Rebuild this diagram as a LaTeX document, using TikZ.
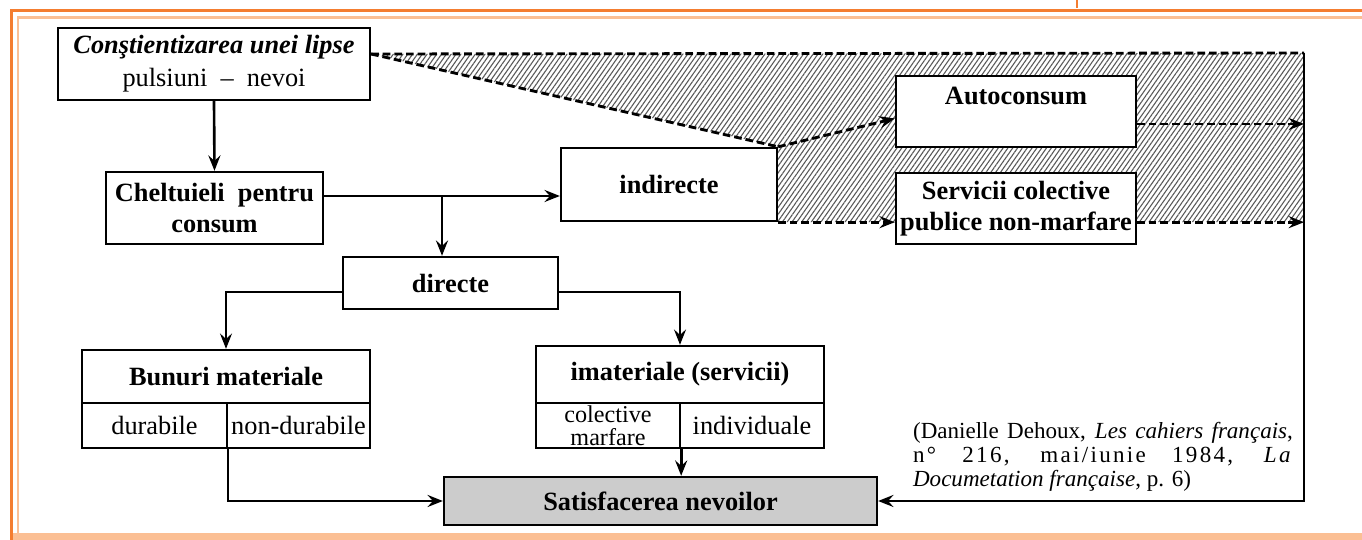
\documentclass[tikz,border=0pt]{standalone}
\usepackage{fontspec}
\setmainfont{Liberation Serif}
\usetikzlibrary{arrows.meta,patterns.meta,backgrounds}
\definecolor{deeporange}{RGB}{244,125,48}
\definecolor{paleorange}{RGB}{251,191,148}
\tikzset{
  box/.style={draw, line width=1.1pt, fill=white, inner sep=0pt, align=center,
    font=\fontsize{12}{14}\selectfont\bfseries},
  cell/.style={box, font=\fontsize{12}{14}\selectfont},
  link/.style={line width=1.2pt, -{Stealth[length=7pt,width=5.5pt,inset=2.5pt]}},
  thinlink/.style={link, line width=0.75pt},
  dashlink/.style={link, dash pattern=on 3.5pt off 1.8pt, line width=1.3pt},
  hatch/.style={pattern={Lines[angle=55,distance=1.8pt,line width=0.5pt]}, pattern color=black!65}
}
\begin{document}
\begin{tikzpicture}[x=0.016cm,y=-0.016cm]
\useasboundingbox (0,0) rectangle (1362,540);
% frame
\draw[deeporange, line width=1.4pt] (11.5,540) -- (11.5,10.5) -- (1362,10.5);
\draw[deeporange, line width=1pt] (1077,0) -- (1077,8);
\draw[paleorange, line width=1pt] (18,533) -- (18,17.5) -- (1362,17.5);
\draw[paleorange, line width=2.8pt] (13,536.5) -- (1362,536.5);
% boxes
\node[box, minimum width=4.99cm, minimum height=1.152cm, font=\fontsize{12}{15}\selectfont\bfseries] (need) at (214,64)
  {\textit{Conştientizarea unei lipse}\\\mdseries pulsiuni \ – \ nevoi};
\node[box, minimum width=3.472cm, minimum height=1.152cm] (chelt) at (214.5,208) {Cheltuieli\ \ pentru\\consum};
\node[box, minimum width=3.456cm, minimum height=1.168cm] (indir) at (669,184.5) {indirecte};
\node[box, minimum width=3.44cm, minimum height=0.832cm] (dir) at (450.5,283) {directe};
\node[box, minimum width=3.84cm, minimum height=1.136cm] (autoc) at (1016,111.5) {Autoconsum\\\mbox{}};
\node[box, minimum width=3.84cm, minimum height=1.136cm] (serv) at (1016,208.5) {Servicii colective\\publice non-marfare};
\node[box, minimum width=4.608cm, minimum height=0.848cm] (bun) at (226,376.5) {Bunuri materiale};
\node[cell, minimum width=2.32cm, minimum height=0.72cm] (dur) at (154.5,425.5) {durabile};
\node[cell, minimum width=2.288cm, minimum height=0.72cm] (ndur) at (298.5,425.5) {non-durabile};
\node[box, minimum width=4.608cm, minimum height=0.912cm] (imat) at (680,374.5) {imateriale (servicii)};
\node[cell, minimum width=2.304cm, minimum height=0.72cm, font=\fontsize{11}{10.5}\selectfont] (colm) at (608,425.5) {colective\\marfare};
\node[cell, minimum width=2.304cm, minimum height=0.72cm] (indiv) at (752,425.5) {individuale};
\node[box, minimum width=6.928cm, minimum height=0.768cm, fill=gray!40] (sat) at (660.5,501) {Satisfacerea nevoilor};
\node[inner sep=0pt, align=left, font=\fontsize{10.5}{11}\selectfont] (src) at (1103,457)
  {\makebox[6.08cm][s]{(Danielle Dehoux, \textit{Les cahiers français},}\\
   \makebox[6.08cm][s]{\addfontfeature{LetterSpace=10}n° 216, mai/iunie 1984, \textit{La}}\\
   \textit{Documetation française}, p. 6)};
% helper points
\coordinate (ntip) at ([yshift=0.16cm]need.east);
\coordinate (rtop) at (1304,53);
\coordinate (split) at (442,196);
% hatched zone
\begin{scope}[on background layer]
\path[hatch] (ntip) -- (rtop) -- (rtop |- indir.south east) -- (indir.south east) -- (indir.north east) -- cycle;
\end{scope}
\draw[dashlink, -] (ntip) -- (rtop);
\draw[dashlink, -] (ntip) -- (indir.north east);
\draw[dashlink] (indir.north east) -- ([yshift=-0.112cm]autoc.west);
\draw[dashlink] (indir.south east) -- (indir.south east -| serv.west);
\draw[dashlink] ([yshift=-0.2cm]autoc.east) -- ([yshift=-0.2cm]autoc.east -| rtop);
\draw[dashlink] (serv.east |- indir.south east) -- (indir.south east -| rtop);
% solid links
\draw[link] (need.south) -- (chelt.north);
\draw[link] (chelt.east |- split) -- (indir.west |- split);
\draw[link] (split) -- (split |- dir.north);
\draw[thinlink] ([yshift=-0.144cm]dir.west) -| (bun.north);
\draw[thinlink] ([yshift=-0.144cm]dir.east) -| (imat.north);
\draw[link] (dur.south east) |- (sat.west);
\draw[link] (colm.south east) -- (colm.south east |- sat.north);
\draw[link] (rtop) -- (rtop |- sat.east) -- (sat.east);
\end{tikzpicture}
\end{document}
